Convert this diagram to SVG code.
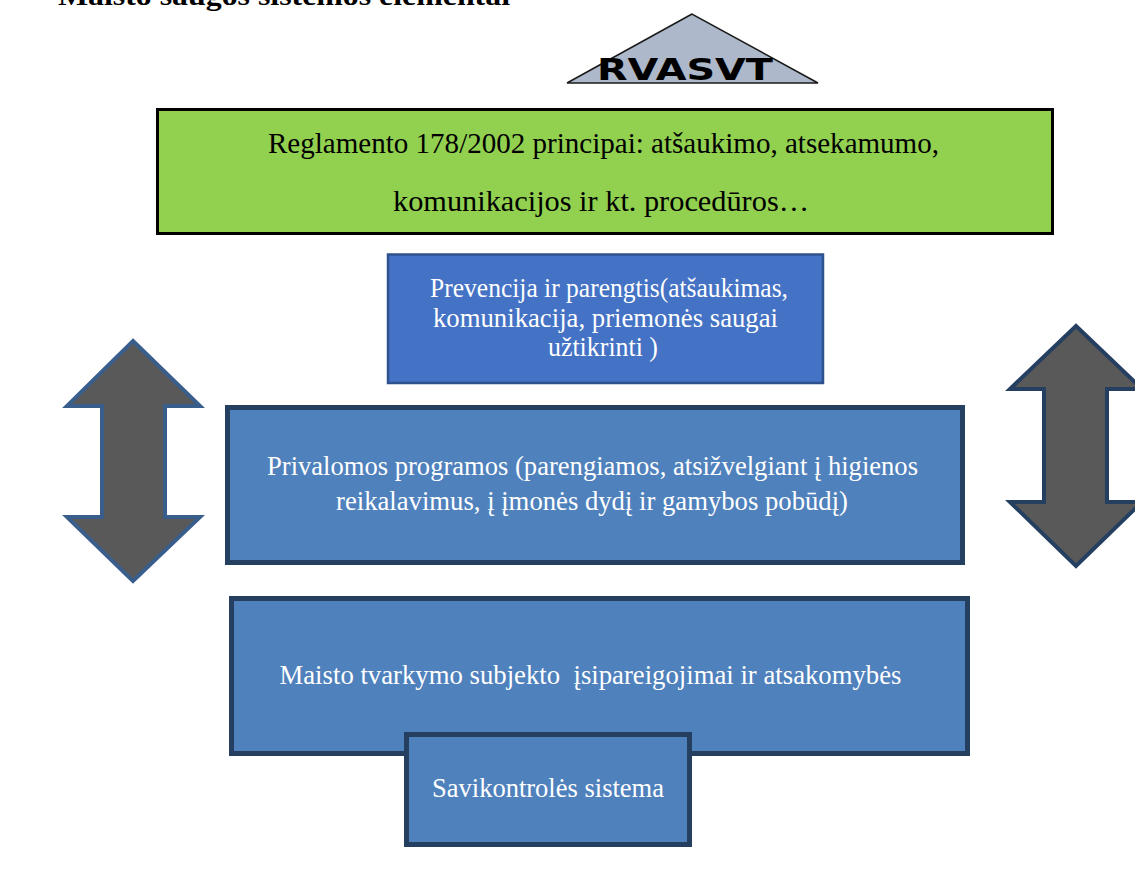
<svg xmlns="http://www.w3.org/2000/svg" width="1135" height="877" viewBox="0 0 1135 877">
  <style>
    .serif { font-family: "Liberation Serif", "Times New Roman", serif; }
    .body { font-size: 28px; fill: #ffffff; text-anchor: middle; }
    .dark { fill: #000000; text-anchor: middle; font-size: 30px; }
    .blue { fill: #4f81bd; stroke: #243f60; stroke-width: 5; }
    .arrow { fill: #595959; stroke-width: 4; stroke-linejoin: miter; }
  </style>
  <rect x="0" y="0" width="1135" height="877" fill="#ffffff"/>

  <text id="heading" class="serif" x="58" y="5" font-size="28" font-weight="bold" textLength="452" lengthAdjust="spacingAndGlyphs">Maisto saugos sistemos elementai</text>

  <g id="rvasvt">
    <polygon points="692,14 567,83 818,83" fill="#adb9ca" stroke="#1a1a1a" stroke-width="1.5"/>
    <text x="685" y="80" font-family="'DejaVu Sans', Verdana, sans-serif" font-weight="bold" font-size="30" text-anchor="middle" textLength="176" lengthAdjust="spacingAndGlyphs" fill="#000">RVASVT</text>
  </g>

  <g id="reglamentas">
    <rect x="157.5" y="109.5" width="895" height="124" fill="#92d050" stroke="#000" stroke-width="3"/>
    <text class="serif dark" x="603.5" y="153" textLength="671" lengthAdjust="spacingAndGlyphs">Reglamento 178/2002 principai: atšaukimo, atsekamumo,</text>
    <text class="serif dark" x="601" y="211" textLength="416" lengthAdjust="spacingAndGlyphs">komunikacijos ir kt. procedūros…</text>
  </g>

  <g id="prevencija">
    <rect x="388" y="254.5" width="435" height="128.5" fill="#4472c4" stroke="#2f528f" stroke-width="2.5"/>
    <text class="serif body" x="609" y="297" textLength="358" lengthAdjust="spacingAndGlyphs">Prevencija ir parengtis(atšaukimas,</text>
    <text class="serif body" x="605.5" y="327" textLength="345" lengthAdjust="spacingAndGlyphs">komunikacija, priemonės saugai</text>
    <text class="serif body" x="603" y="356" textLength="110" lengthAdjust="spacingAndGlyphs">užtikrinti )</text>
  </g>

  <g id="privalomos">
    <rect class="blue" x="227.5" y="407.5" width="735" height="155"/>
    <text class="serif body" x="592.5" y="475" textLength="651" lengthAdjust="spacingAndGlyphs">Privalomos programos (parengiamos, atsižvelgiant į higienos</text>
    <text class="serif body" x="592" y="510" textLength="512" lengthAdjust="spacingAndGlyphs">reikalavimus, į įmonės dydį ir gamybos pobūdį)</text>
  </g>

  <g id="maisto">
    <rect class="blue" x="231.5" y="598.5" width="736" height="155"/>
    <text class="serif body" x="590.5" y="684" textLength="622" lengthAdjust="spacingAndGlyphs" xml:space="preserve">Maisto tvarkymo subjekto  įsipareigojimai ir atsakomybės</text>
  </g>

  <g id="savikontrole">
    <rect class="blue" x="406.5" y="734.5" width="283" height="110"/>
    <text class="serif body" x="548" y="797" textLength="232" lengthAdjust="spacingAndGlyphs">Savikontrolės sistema</text>
  </g>

  <g id="connectors">
    <polygon id="arrow-left" class="arrow" stroke="#3a5e8c" points="133,341 200,406 165,406 165,517 200,517 133,581 67,517 102,517 102,406 67,406"/>
    <polygon id="arrow-right" class="arrow" stroke="#243f60" points="1076,326 1142,389 1107,389 1107,502 1142,502 1076,566 1010,502 1044,502 1044,389 1010,389"/>
  </g>
</svg>
